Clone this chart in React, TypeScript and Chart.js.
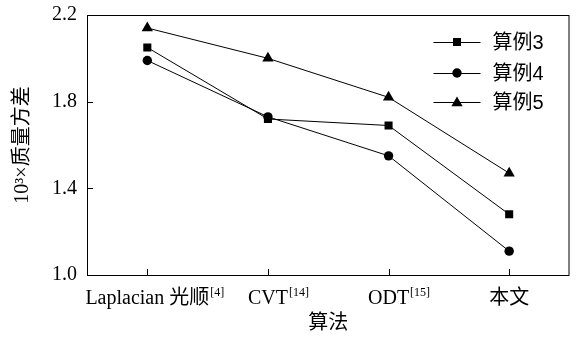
import React, { useEffect, useRef } from "react";
import { Chart, registerables } from "chart.js";

Chart.register(...registerables);

const categories = ["Laplacian 光顺", "CVT", "ODT", "本文"];
const categorySup = ["[4]", "[14]", "[15]", ""];
const seriesNames = ["算例3", "算例4", "算例5"];
const case3 = [2.05, 1.72, 1.69, 1.28];
const case4 = [1.99, 1.73, 1.55, 1.11];
const case5 = [2.14, 2.0, 1.82, 1.47];
const yTicks = [1.0, 1.4, 1.8, 2.2];
const xTitle = "算法";
const yTitle = "10³×质量方差";

const SERIF = '"Liberation Serif", "Noto Sans CJK SC", serif';
const LEGEND_FONT = '"Liberation Sans", "Noto Sans CJK SC", sans-serif';

function drawMarker(ctx: CanvasRenderingContext2D, style: string, x: number, y: number) {
  ctx.beginPath();
  if (style === "rect") {
    const s = 4;
    ctx.rect(x - s, y - s, 2 * s, 2 * s);
  } else if (style === "circle") {
    ctx.arc(x, y, 4.7, 0, Math.PI * 2);
  } else {
    const r = 6.5;
    for (let i = 0; i < 3; i++) {
      const a = (i * 2 * Math.PI) / 3;
      const px = x + Math.sin(a) * r;
      const py = y - Math.cos(a) * r;
      if (i === 0) ctx.moveTo(px, py);
      else ctx.lineTo(px, py);
    }
    ctx.closePath();
  }
  ctx.fill();
}

const framePlugin = {
  id: "frameAndLabels",
  afterDraw(chart: any) {
    const { ctx, chartArea } = chart;
    const { left, right, top, bottom } = chartArea;
    const xs = chart.scales.x;
    const ys = chart.scales.y;
    ctx.save();
    ctx.strokeStyle = "#000";
    ctx.lineWidth = 1;
    ctx.strokeRect(left + 0.5, top + 0.5, right - left - 1, bottom - top);
    ctx.beginPath();
    categories.forEach((_, i) => {
      const px = Math.round(xs.getPixelForValue(i)) + 0.5;
      ctx.moveTo(px, bottom);
      ctx.lineTo(px, bottom - 6);
    });
    yTicks.forEach((v) => {
      const py = Math.round(ys.getPixelForValue(v)) + 0.5;
      ctx.moveTo(left, py);
      ctx.lineTo(left + 6, py);
    });
    ctx.stroke();

    ctx.fillStyle = "#000";
    ctx.textBaseline = "alphabetic";
    const base = bottom + 29;
    categories.forEach((c, i) => {
      const px = xs.getPixelForValue(i);
      ctx.font = `20px ${SERIF}`;
      const w = ctx.measureText(c).width;
      ctx.textAlign = "left";
      ctx.fillText(c, px - w / 2, base);
      if (categorySup[i]) {
        ctx.font = `12px ${SERIF}`;
        ctx.fillText(categorySup[i], px + w / 2 + 1, base - 8);
      }
    });

    const styles = ["rect", "circle", "triangle"];
    const rows = [top + 27, top + 58, top + 87];
    seriesNames.forEach((name, i) => {
      const y = rows[i];
      const x0 = right - 136;
      const x1 = right - 89;
      ctx.beginPath();
      ctx.moveTo(x0, y + 0.5);
      ctx.lineTo(x1, y + 0.5);
      ctx.stroke();
      drawMarker(ctx, styles[i], (x0 + x1) / 2, y + (styles[i] === "triangle" ? 1 : 0));
      ctx.font = `20px ${LEGEND_FONT}`;
      ctx.textAlign = "left";
      ctx.textBaseline = "middle";
      ctx.fillText(name, right - 77, y + 1);
    });
    ctx.restore();
  },
};

export default function App() {
  const ref = useRef<HTMLCanvasElement>(null);
  useEffect(() => {
    if (!ref.current) return;
    const mk = (label: string, data: number[], style: string, r: number) => ({
      label,
      data,
      borderColor: "#000",
      backgroundColor: "#000",
      borderWidth: 1,
      pointStyle: style,
      pointRadius: r,
      pointBorderWidth: 0,
      pointBackgroundColor: "#000",
      tension: 0,
    });
    const chart = new Chart(ref.current, {
      type: "line",
      data: {
        labels: categories,
        datasets: [
          mk(seriesNames[0], case3, "rect", 5.7),
          mk(seriesNames[1], case4, "circle", 4.7),
          mk(seriesNames[2], case5, "triangle", 6.5),
        ],
      },
      options: {
        animation: false,
        responsive: false,
        devicePixelRatio: 1,
        layout: { padding: { top: 15, right: 5, left: 0, bottom: 0 } },
        plugins: { legend: { display: false }, tooltip: { enabled: false } },
        scales: {
          x: {
            type: "category",
            offset: true,
            grid: { display: false, drawTicks: false },
            border: { display: false },
            ticks: { display: false },
            title: {
              display: true,
              text: xTitle,
              color: "#000",
              font: { family: SERIF, size: 20, lineHeight: 1.2 },
              padding: { top: 0, bottom: 2 },
            },
            afterFit: (s: any) => {
              s.height = 63;
              s.paddingLeft = 0;
              s.paddingRight = 0;
            },
          },
          y: {
            min: 1.0,
            max: 2.2,
            grid: { display: false, drawTicks: false },
            border: { display: false },
            afterBuildTicks: (s: any) => {
              s.ticks = yTicks.map((v) => ({ value: v }));
            },
            ticks: {
              color: "#000",
              padding: 10,
              font: { family: SERIF, size: 20 },
              callback: (v: any) => Number(v).toFixed(1),
            },
            title: {
              display: true,
              text: yTitle,
              color: "#000",
              font: { family: SERIF, size: 20, lineHeight: 1.2 },
              padding: { top: 11, bottom: 0 },
            },
            afterFit: (s: any) => {
              s.width = 87;
              s.paddingTop = 0;
              s.paddingBottom = 0;
            },
          },
        },
      },
      plugins: [framePlugin],
    } as any);
    return () => chart.destroy();
  }, []);
  return (
    <div style={{ position: "fixed", left: 0, top: 0, width: 576, height: 338, background: "#fff" }}>
      <canvas ref={ref} width={576} height={338} />
    </div>
  );
}
